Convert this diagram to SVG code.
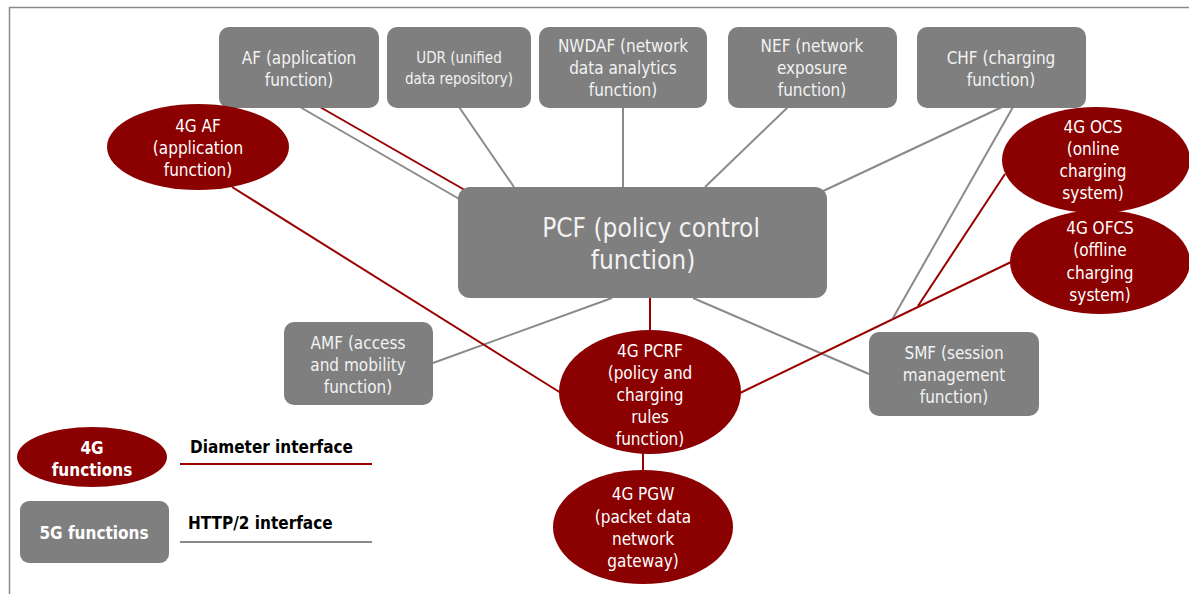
<svg xmlns="http://www.w3.org/2000/svg" width="1189" height="594" viewBox="0 0 1189 594">
<style>
.box{fill:#7f7f7f}
.ell{fill:#8b0000}
.t{font-family:"DejaVu Sans Condensed","Liberation Sans",sans-serif;font-size:17px;fill:#f2f2f2;text-anchor:middle}
.tw{fill:#ffffff}
.h{stroke:#8a8a8a;stroke-width:2;fill:none}
.d{stroke:#990000;stroke-width:2;fill:none}
.lg{font-family:"DejaVu Sans Condensed","Liberation Sans",sans-serif;font-size:17px;font-weight:bold;fill:#000}
.lgw{font-family:"DejaVu Sans Condensed","Liberation Sans",sans-serif;font-size:17px;font-weight:bold;fill:#ffffff;text-anchor:middle}
</style>
<rect width="1189" height="594" fill="#ffffff"/>
<path d="M9.5 594 V7.5 H1189" stroke="#8a8a8a" stroke-width="1.5" fill="none"/>

<g id="connectors">
  <line class="h" x1="300" y1="107" x2="461" y2="200"/>
  <line class="d" x1="320" y1="107" x2="470" y2="193"/>
  <line class="h" x1="459" y1="107" x2="514" y2="187"/>
  <line class="h" x1="623" y1="107" x2="623" y2="187"/>
  <line class="h" x1="788" y1="107" x2="705" y2="187"/>
  <line class="h" x1="1002" y1="107" x2="821" y2="192"/>
  <line class="h" x1="1013" y1="107" x2="893" y2="318"/>
  <line class="h" x1="612" y1="298" x2="433" y2="363"/>
  <line class="h" x1="693" y1="298" x2="869" y2="374"/>
  <line class="d" x1="232" y1="187" x2="561" y2="393"/>
  <line class="d" x1="650" y1="298" x2="650" y2="331"/>
  <line class="d" x1="643" y1="452" x2="643" y2="471"/>
  <line class="d" x1="740" y1="393" x2="1011" y2="262"/>
  <line class="d" x1="1005" y1="174" x2="918" y2="306"/>
</g>

<g id="af"><rect class="box" x="219" y="27" width="160" height="81" rx="10"/>
<text class="t" x="299" y="64">AF (application</text><text class="t" x="299" y="86">function)</text></g>
<g id="udr"><rect class="box" x="387" y="27" width="144" height="81" rx="10"/>
<text class="t" x="459" y="63" style="font-size:15px">UDR (unified</text><text class="t" x="459" y="84" style="font-size:15px">data repository)</text></g>
<g id="nwdaf"><rect class="box" x="539" y="27" width="168" height="81" rx="10"/>
<text class="t" x="623" y="52">NWDAF (network</text><text class="t" x="623" y="74">data analytics</text><text class="t" x="623" y="96">function)</text></g>
<g id="nef"><rect class="box" x="728" y="27" width="169" height="81" rx="10"/>
<text class="t" x="812" y="52">NEF (network</text><text class="t" x="812" y="74">exposure</text><text class="t" x="812" y="96">function)</text></g>
<g id="chf"><rect class="box" x="917" y="27" width="169" height="81" rx="10"/>
<text class="t" x="1001" y="64">CHF (charging</text><text class="t" x="1001" y="86">function)</text></g>

<g id="pcf"><rect class="box" x="458" y="187" width="369" height="111" rx="12"/>
<text class="t" x="651" y="237" style="font-size:26px">PCF (policy control</text><text class="t" x="643" y="269" style="font-size:26px">function)</text></g>

<g id="af4g"><ellipse class="ell" cx="198" cy="147" rx="91" ry="43"/>
<text class="t tw" x="198" y="132">4G AF</text><text class="t tw" x="198" y="154">(application</text><text class="t tw" x="198" y="176">function)</text></g>
<g id="ocs"><ellipse class="ell" cx="1096" cy="160" rx="94" ry="53"/>
<text class="t tw" x="1093" y="133">4G OCS</text><text class="t tw" x="1093" y="155">(online</text><text class="t tw" x="1093" y="177">charging</text><text class="t tw" x="1093" y="199">system)</text></g>
<g id="ofcs"><ellipse class="ell" cx="1100" cy="262" rx="90" ry="52"/>
<text class="t tw" x="1100" y="234">4G OFCS</text><text class="t tw" x="1100" y="256">(offline</text><text class="t tw" x="1100" y="279">charging</text><text class="t tw" x="1100" y="301">system)</text></g>

<g id="amf"><rect class="box" x="284" y="322" width="149" height="83" rx="10"/>
<text class="t" x="358" y="349">AMF (access</text><text class="t" x="358" y="371">and mobility</text><text class="t" x="358" y="393">function)</text></g>
<g id="smf"><rect class="box" x="869" y="332" width="170" height="84" rx="10"/>
<text class="t" x="954" y="359">SMF (session</text><text class="t" x="954" y="381">management</text><text class="t" x="954" y="403">function)</text></g>

<g id="pcrf"><ellipse class="ell" cx="650" cy="392" rx="91" ry="62"/>
<text class="t tw" x="650" y="357">4G PCRF</text><text class="t tw" x="650" y="379">(policy and</text><text class="t tw" x="650" y="401">charging</text><text class="t tw" x="650" y="423">rules</text><text class="t tw" x="650" y="445">function)</text></g>
<g id="pgw"><ellipse class="ell" cx="643" cy="527" rx="90" ry="57"/>
<text class="t tw" x="643" y="500">4G PGW</text><text class="t tw" x="643" y="523">(packet data</text><text class="t tw" x="643" y="545">network</text><text class="t tw" x="643" y="567">gateway)</text></g>

<g id="legend">
<ellipse class="ell" cx="92" cy="457" rx="75" ry="30"/>
<text class="lgw" x="92" y="454">4G</text><text class="lgw" x="92" y="476">functions</text>
<rect class="box" x="20" y="501" width="149" height="62" rx="9"/>
<text class="lgw" x="94" y="539">5G functions</text>
<text class="lg" x="190" y="453">Diameter interface</text>
<line class="d" x1="180" y1="464" x2="372" y2="464"/>
<text class="lg" x="188" y="529">HTTP/2 interface</text>
<line class="h" x1="180" y1="542" x2="372" y2="542"/>
</g>
</svg>
